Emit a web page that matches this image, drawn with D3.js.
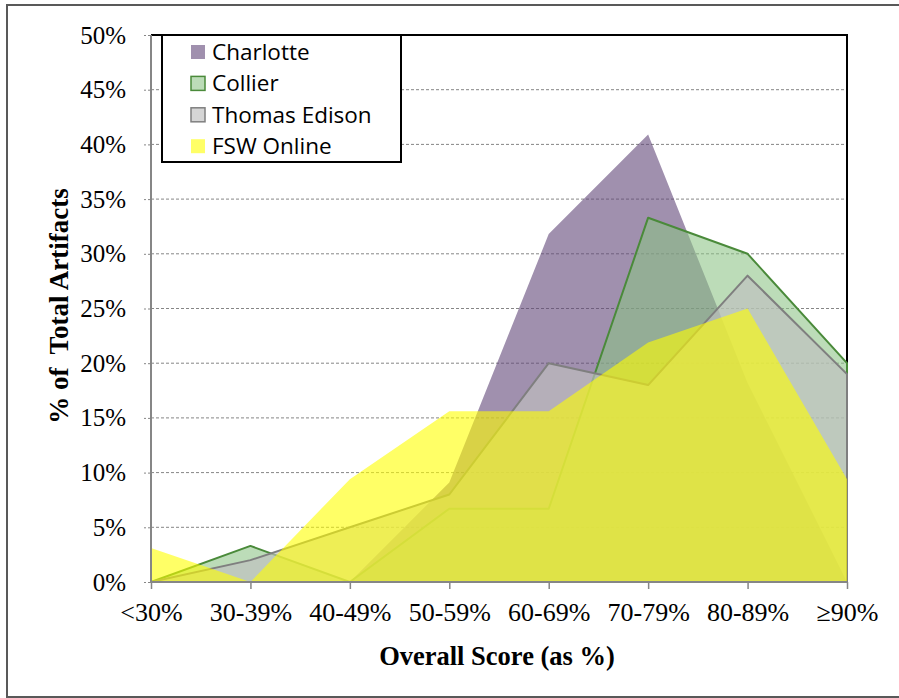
<!DOCTYPE html>
<html>
<head>
<meta charset="utf-8">
<script src="https://cdn.jsdelivr.net/npm/d3@7"></script>
<style>
body { margin: 0; background: #fff; }
</style>
</head>
<body>
<div id="chart"></div>
<script>

const categories = ["<30%", "30-39%", "40-49%", "50-59%", "60-69%", "70-79%", "80-89%", "\u226590%"]
const yTicks = [0, .05, .10, .15, .20, .25, .30, .35, .40, .45, .50]

// share of artifacts per score band
const charlotte = [0, 0, 0, .091, .318, .409, .182, 0]
const collier = [0, .033, 0, .067, .067, .333, .30, .20]
const thomasEdison = [0, .02, .05, .08, .20, .18, .28, .19]
const fswOnline = [.031, 0, .094, .156, .156, .219, .25, .094]

const seriesNames = ["Charlotte", "Collier", "Thomas Edison", "FSW Online"]
const seriesValues = [charlotte, collier, thomasEdison, fswOnline]

const config = {
    top: 35,
    right: 847,
    bottom: 582,
    left: 151,
}

const fills = ["rgba(96,70,120,0.6)", "rgba(140,195,133,0.58)", "rgba(191,191,191,0.66)", "rgba(255,255,0,0.6)"]
const strokes = ["none", "#4a8a3a", "#7f7f7f", "none"]

const serif = "'Liberation Serif', 'Times New Roman', serif"

const width = 899
const height = 698

const svg = d3.select('#chart').append('svg').attr("width", width).attr("height", height)

const xScale = d3.scalePoint().domain(categories).range([config.left, config.right])
const yScale = d3.scaleLinear().domain([0, .5]).range([config.bottom, config.top])

// outer frame
svg.append('rect')
    .attr("x", 7).attr("y", 5)
    .attr("width", 900).attr("height", 692)
    .attr("fill", "none")
    .attr("stroke", "#595959")
    .attr("stroke-width", 2)

// gridlines
svg.append('g')
    .selectAll('line')
    .data(yTicks.filter(d => d > 0 && d < .5))
    .enter()
    .append('line')
    .attr("x1", config.left)
    .attr("x2", config.right)
    .attr("y1", d => yScale(d))
    .attr("y2", d => yScale(d))
    .attr("stroke", "#868686")
    .attr("stroke-width", 1)
    .attr("stroke-dasharray", "3 2")

// plot area border top + right
svg.append('path')
    .attr("d", `M${config.left},${config.top}H${config.right}V${config.bottom}`)
    .attr("fill", "none")
    .attr("stroke", "#000")
    .attr("stroke-width", 2)

const area = d3.area()
    .x((d, i) => xScale(categories[i]))
    .y0(yScale(0))
    .y1(d => yScale(d))

seriesValues.forEach(function (vals, i) {
    svg.append('path')
        .datum(vals)
        .attr("d", area)
        .attr("fill", fills[i])
        .attr("stroke", strokes[i])
        .attr("stroke-width", 2)
        .attr("stroke-linejoin", "round")
})

// y axis
const axisLeft = d3.axisLeft(yScale).tickValues(yTicks).tickFormat(d3.format(".0%")).tickSize(7).tickPadding(18)
const gy = svg.append('g')
    .attr("transform", `translate(${config.left},0)`)
    .call(axisLeft)
gy.select(".domain").attr("stroke", "#868686").attr("stroke-width", 2).attr("d", `M0,${config.bottom}V${config.top}`)
gy.selectAll(".tick line").attr("stroke", "#868686").attr("stroke-dasharray", "3 2")
gy.selectAll(".tick text")
    .attr("font-family", serif)
    .attr("font-size", 25)
    .attr("fill", "#000")

// x axis
const axisBottom = d3.axisBottom(xScale).tickSize(7).tickPadding(14)
const gx = svg.append('g')
    .attr("transform", `translate(0,${config.bottom})`)
    .call(axisBottom)
gx.select(".domain").attr("stroke", "#868686").attr("stroke-width", 2).attr("d", `M${config.left},0H${config.right}`)
gx.selectAll(".tick line").attr("stroke", "#868686").attr("stroke-width", 1.5)
gx.selectAll(".tick text")
    .attr("font-family", serif)
    .attr("font-size", 26)
    .attr("fill", "#000")

// axis titles
svg.append('text')
    .attr("x", 497)
    .attr("y", 665)
    .attr("text-anchor", "middle")
    .attr("font-family", serif)
    .attr("font-weight", "bold")
    .attr("font-size", 26.5)
    .text("Overall Score (as %)")

svg.append('text')
    .attr("transform", "translate(68,306) rotate(-90)")
    .attr("text-anchor", "middle")
    .attr("font-family", serif)
    .attr("font-weight", "bold")
    .attr("font-size", 27)
    .style("white-space", "pre")
    .text("% of  Total Artifacts")

// legend
const legend = svg.append('g')
legend.append('rect')
    .attr("x", 162).attr("y", 35)
    .attr("width", 239).attr("height", 127)
    .attr("fill", "#fff")
    .attr("stroke", "#000")
    .attr("stroke-width", 2)

seriesNames.forEach(function (name, i) {
    const cy = 52 + i * 31.4
    legend.append('rect')
        .attr("x", 191).attr("y", cy - 7)
        .attr("width", 14).attr("height", 14)
        .attr("fill", fills[i])
        .attr("stroke", strokes[i])
        .attr("stroke-width", 1.5)
    legend.append('text')
        .attr("x", 212)
        .attr("y", cy)
        .attr("dy", "0.35em")
        .attr("font-family", "'Open Sans', sans-serif")
        .attr("font-size", 22.5)
        .attr("fill", "#000")
        .text(name)
})

</script>
</body>
</html>
